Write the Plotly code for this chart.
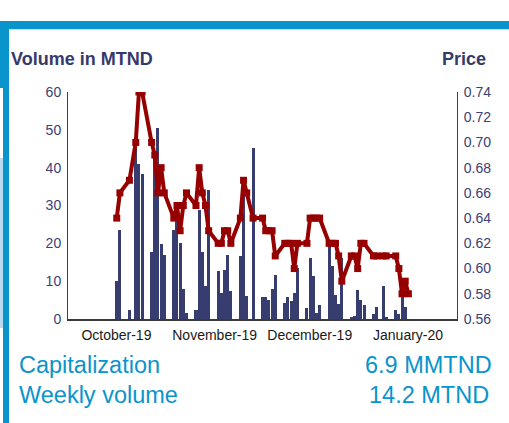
import plotly.graph_objects as go

dates = [
    "2019-10-03", "2019-10-04", "2019-10-07", "2019-10-09", "2019-10-10", "2019-10-11",
    "2019-10-14", "2019-10-15", "2019-10-16", "2019-10-17", "2019-10-18",
    "2019-10-21", "2019-10-22", "2019-10-23", "2019-10-24", "2019-10-25",
    "2019-10-28", "2019-10-29", "2019-10-30", "2019-10-31", "2019-11-01",
    "2019-11-04", "2019-11-05", "2019-11-06", "2019-11-07", "2019-11-08",
    "2019-11-11", "2019-11-12", "2019-11-13", "2019-11-15",
    "2019-11-18", "2019-11-19", "2019-11-20", "2019-11-21", "2019-11-22",
    "2019-11-25", "2019-11-26", "2019-11-27", "2019-11-28", "2019-11-29",
    "2019-12-02", "2019-12-03", "2019-12-04", "2019-12-05", "2019-12-06",
    "2019-12-09", "2019-12-10", "2019-12-11", "2019-12-12", "2019-12-13",
    "2019-12-16", "2019-12-17", "2019-12-18", "2019-12-19", "2019-12-20",
    "2019-12-23", "2019-12-24", "2019-12-26", "2019-12-27",
    "2019-12-30", "2019-12-31", "2020-01-01", "2020-01-02", "2020-01-03",
]

volume = [
    10.1, 23.6, 2.3, 46.0, 40.9, 38.2,
    17.7, 44.0, 50.6, 19.7, 16.8,
    23.6, 26.0, 20.1, 8.0, 1.6,
    2.5, 28.9, 17.8, 8.6, 34.2,
    12.8, 7.0, 13.0, 16.8, 7.3,
    16.6, 35.0, 6.0, 45.1,
    5.8, 5.7, 5.1, 7.8, 11.5,
    4.2, 5.7, 4.8, 7.0, 13.5,
    3.0, 16.1, 11.3, 1.6, 3.8,
    19.2, 14.1, 6.4, 4.0, 16.1,
    0.4, 0.9, 7.6, 4.9, 3.8,
    1.4, 3.2, 8.8, 0.4,
    2.3, 1.4, 6.5, 3.3, None,
]

price = [
    0.64, 0.66, 0.67, 0.70, 0.74, 0.74,
    0.70, 0.69, 0.66, 0.68, 0.66,
    0.64, 0.65, 0.63, 0.65, 0.66,
    0.65, 0.68, 0.66, 0.65, 0.63,
    0.62, 0.62, 0.63, 0.63, 0.62,
    0.64, 0.67, 0.66, 0.64,
    0.64, 0.63, 0.63, 0.63, 0.61,
    0.62, 0.62, 0.62, 0.60, 0.62,
    0.62, 0.64, 0.64, 0.64, 0.64,
    0.62, 0.62, 0.62, 0.61, 0.59,
    0.61, 0.61, 0.60, 0.62, 0.62,
    0.61, 0.61, 0.61, 0.61,
    0.61, 0.60, 0.58, 0.59, 0.58,
]

month_ticks = ["2019-10-01", "2019-11-01", "2019-12-01", "2020-01-01"]
month_labels = ["October-19", "November-19", "December-19", "January-20"]

stats_labels = ["Capitalization", "Weekly volume"]
stats_values = ["6.9 MMTND", "14.2 MTND"]

NAVY = "#383D70"
RED = "#960000"
BLUE = "#0A94CC"
FONT = "Liberation Sans, Arial, sans-serif"

W, H = 509, 423
ML, MR, MT, MB = 68, 52, 92, 104
PW = W - ML - MR
PH = H - MT - MB


def px_x(x):
    return (x - ML) / PW


def px_y(y):
    return (H - MB - y) / PH


fig = go.Figure()
fig.add_trace(go.Bar(
    x=dates, y=volume, marker_color=NAVY, marker_line_width=0,
    width=86400000 * 0.95, yaxis="y", name="Volume",
))
fig.add_trace(go.Scatter(
    x=dates, y=price, mode="lines+markers", yaxis="y2", name="Price",
    line=dict(color=RED, width=4),
    marker=dict(symbol="square", size=7, color=RED),
))

fig.update_layout(
    width=W, height=H,
    margin=dict(l=ML, r=MR, t=MT, b=MB, pad=0),
    paper_bgcolor="white", plot_bgcolor="white",
    showlegend=False,
    font=dict(family=FONT),
    bargap=0,
    xaxis=dict(
        type="date",
        range=["2019-09-17 15:00", "2020-01-18 08:00"],
        tickvals=month_ticks, ticktext=month_labels,
        ticks="", ticklabelshift=6, ticklabelstandoff=2,
        tickfont=dict(size=14, color="#1a1a1a", family=FONT),
        showgrid=False, zeroline=False,
        showline=True, linecolor="#3a3a3a", linewidth=1.5,
    ),
    yaxis=dict(
        range=[0, 60], dtick=10, ticks="",
        tickfont=dict(size=14, color="#3B4075", family=FONT),
        showgrid=False, zeroline=False,
        showline=True, linecolor=NAVY, linewidth=1,
        ticklabelstandoff=3,
    ),
    yaxis2=dict(
        range=[0.56, 0.74], dtick=0.02, tickformat=".2f", ticks="",
        overlaying="y", side="right",
        tickfont=dict(size=14, color="#3B4075", family=FONT),
        showgrid=False, zeroline=False,
        showline=True, linecolor=NAVY, linewidth=1,
        ticklabelstandoff=3,
    ),
)

shapes = [
    dict(type="rect", xref="paper", yref="paper", x0=px_x(0), x1=px_x(W),
         y0=px_y(29.3), y1=px_y(21), fillcolor=BLUE, line_width=0, layer="above"),
    dict(type="rect", xref="paper", yref="paper", x0=px_x(3), x1=px_x(9),
         y0=px_y(H), y1=px_y(21), fillcolor=BLUE, line_width=0, layer="above"),
    dict(type="rect", xref="paper", yref="paper", x0=px_x(0), x1=px_x(3),
         y0=px_y(88), y1=px_y(21), fillcolor=BLUE, line_width=0, layer="above"),
    dict(type="rect", xref="paper", yref="paper", x0=px_x(0), x1=px_x(3),
         y0=px_y(328), y1=px_y(158), fillcolor="#B9DDF0", line_width=0, layer="above"),
]
fig.update_layout(shapes=shapes)

ann = []
ann.append(dict(text="<b>Volume in MTND</b>", x=px_x(9.5), y=px_y(58.7), xref="paper", yref="paper",
                xanchor="left", yanchor="middle", showarrow=False, borderpad=0,
                font=dict(size=18, color="#363A6B", family=FONT)))
ann.append(dict(text="<b>Price</b>", x=px_x(487), y=px_y(58.7), xref="paper", yref="paper",
                xanchor="right", yanchor="middle", showarrow=False, borderpad=0,
                font=dict(size=18, color="#363A6B", family=FONT)))
rows_y = [365.0, 395.0]
right_x = [493, 490]
for lab, val, yy, rx in zip(stats_labels, stats_values, rows_y, right_x):
    ann.append(dict(text=lab, x=px_x(17.5), y=px_y(yy), xref="paper", yref="paper",
                    xanchor="left", yanchor="middle", showarrow=False, borderpad=0,
                    font=dict(size=23.5, color=BLUE, family=FONT)))
    ann.append(dict(text=val, x=px_x(rx), y=px_y(yy), xref="paper", yref="paper",
                    xanchor="right", yanchor="middle", showarrow=False, borderpad=0,
                    font=dict(size=23.5, color=BLUE, family=FONT)))
fig.update_layout(annotations=ann)

fig.write_html(
    "out.html",
    config={"displayModeBar": False},
    post_script="document.body.style.margin='0';document.body.style.overflow='hidden';",
)
